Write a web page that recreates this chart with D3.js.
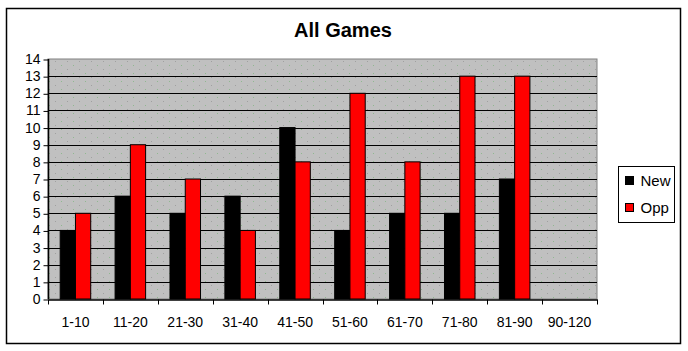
<!DOCTYPE html>
<html>
<head>
<meta charset="utf-8">
<script src="https://cdn.jsdelivr.net/npm/d3@7"></script>
<style>
  body { margin: 0; background: #fff; }
  text { font-family: Arial, "Liberation Sans", sans-serif; }
</style>
</head>
<body>
<div id="chart"></div>
<script>
const categories = ['1-10', '11-20', '21-30', '31-40', '41-50', '51-60', '61-70', '71-80', '81-90', '90-120'];
const seriesNames = ['New', 'Opp'];
const newValues = [4, 6, 5, 6, 10, 4, 5, 5, 7, 0];
const oppValues = [5, 9, 7, 4, 8, 12, 8, 13, 13, 0];
const yTicks = d3.range(0, 15);

const width = 688;
const height = 351;
const plot = { left: 48, top: 59, right: 597, bottom: 299 };
const colours = { New: '#000000', Opp: '#ff0000' };

const svg = d3.select('#chart')
    .append('svg')
    .attr('width', width)
    .attr('height', height);

// dotted grey fill like the old excel plot area
const defs = svg.append('defs');
const pat = defs.append('pattern')
    .attr('id', 'dots')
    .attr('width', 12)
    .attr('height', 8)
    .attr('patternUnits', 'userSpaceOnUse');
pat.append('rect').attr('width', 12).attr('height', 8).attr('fill', '#c0c0c0');
pat.append('rect').attr('x', 1).attr('y', 1).attr('width', 1).attr('height', 1).attr('fill', '#90b890');
pat.append('rect').attr('x', 7).attr('y', 5).attr('width', 1).attr('height', 1).attr('fill', '#a0a0a0');

// outer frame
svg.append('rect')
    .attr('x', 6.5).attr('y', 8.5)
    .attr('width', 674).attr('height', 335)
    .attr('fill', '#fff')
    .attr('stroke', '#000')
    .attr('stroke-width', 1.5);

svg.append('text')
    .attr('x', 343)
    .attr('y', 37)
    .attr('text-anchor', 'middle')
    .style('font-size', '20px')
    .style('font-weight', 'bold')
    .text('All Games');

const x = d3.scaleBand()
    .domain(categories)
    .range([plot.left, plot.right]);

const y = d3.scaleLinear()
    .domain([0, 14])
    .range([plot.bottom, plot.top]);

const bw = x.bandwidth() * 0.278;
const x1 = d3.scaleBand()
    .domain(seriesNames)
    .range([(x.bandwidth() - 2 * bw) / 2, (x.bandwidth() + 2 * bw) / 2]);

svg.append('rect')
    .attr('x', plot.left)
    .attr('y', plot.top)
    .attr('width', plot.right - plot.left)
    .attr('height', plot.bottom - plot.top)
    .attr('fill', 'url(#dots)')
    .attr('stroke', '#808080')
    .attr('stroke-width', 1);

// gridlines
svg.append('g')
    .selectAll('line')
    .data(yTicks.filter(d => d > 0 && d < 14))
    .enter()
    .append('line')
    .attr('x1', plot.left)
    .attr('x2', plot.right)
    .attr('y1', d => Math.round(y(d)) + 0.5)
    .attr('y2', d => Math.round(y(d)) + 0.5)
    .attr('stroke', '#000')
    .attr('stroke-width', 1);

const rows = categories.map((c, i) => ({ cat: c, New: newValues[i], Opp: oppValues[i] }));

const groups = svg.append('g')
    .selectAll('g')
    .data(rows)
    .enter()
    .append('g')
    .attr('transform', d => `translate(${x(d.cat)},0)`);

groups.selectAll('rect')
    .data(d => seriesNames.map(k => ({ key: k, value: d[k] })).filter(d => d.value > 0))
    .enter()
    .append('rect')
    .attr('x', d => x1(d.key))
    .attr('y', d => y(d.value))
    .attr('width', x1.bandwidth())
    .attr('height', d => y(0) - y(d.value))
    .attr('fill', d => colours[d.key])
    .attr('stroke', '#000')
    .attr('stroke-width', 1);

// axes
const yAxis = d3.axisLeft(y)
    .tickValues(yTicks)
    .tickSize(5)
    .tickPadding(3)
    .tickFormat(d3.format('d'));

const gy = svg.append('g')
    .attr('transform', `translate(${plot.left + 0.5},0)`)
    .call(yAxis);
gy.selectAll('.tick line').attr('transform', 'translate(0,0.5)');

const xAxis = d3.axisBottom(x)
    .tickSize(0)
    .tickPadding(18);

const gx = svg.append('g')
    .attr('transform', `translate(0,${plot.bottom + 0.5})`)
    .call(xAxis);

// category boundary ticks
gx.selectAll('.sep')
    .data(d3.range(categories.length + 1))
    .enter()
    .append('line')
    .attr('class', 'sep')
    .attr('x1', i => Math.round(plot.left + i * x.step()) + 0.5)
    .attr('x2', i => Math.round(plot.left + i * x.step()) + 0.5)
    .attr('y1', 0)
    .attr('y2', 5)
    .attr('stroke', '#000');

svg.selectAll('.domain').attr('stroke', '#000').attr('stroke-width', 1.5);
gy.select('.domain').attr('d', `M0,${plot.top}V${plot.bottom}`);
svg.selectAll('.tick text')
    .style('font-size', '14px')
    .style('font-family', 'Arial, "Liberation Sans", sans-serif')
    .attr('fill', '#000');

// legend
const legend = svg.append('g').attr('transform', 'translate(618.5,166.5)');
legend.append('rect')
    .attr('width', 56)
    .attr('height', 56)
    .attr('fill', '#fff')
    .attr('stroke', '#000');

const item = legend.selectAll('.item')
    .data(seriesNames)
    .enter()
    .append('g')
    .attr('transform', (d, i) => `translate(7,${10 + i * 27})`);

item.append('rect')
    .attr('width', 8)
    .attr('height', 8)
    .attr('fill', d => colours[d])
    .attr('stroke', '#000');

item.append('text')
    .attr('x', 15)
    .attr('y', 9)
    .style('font-size', '15px')
    .text(d => d);
</script>
</body>
</html>
